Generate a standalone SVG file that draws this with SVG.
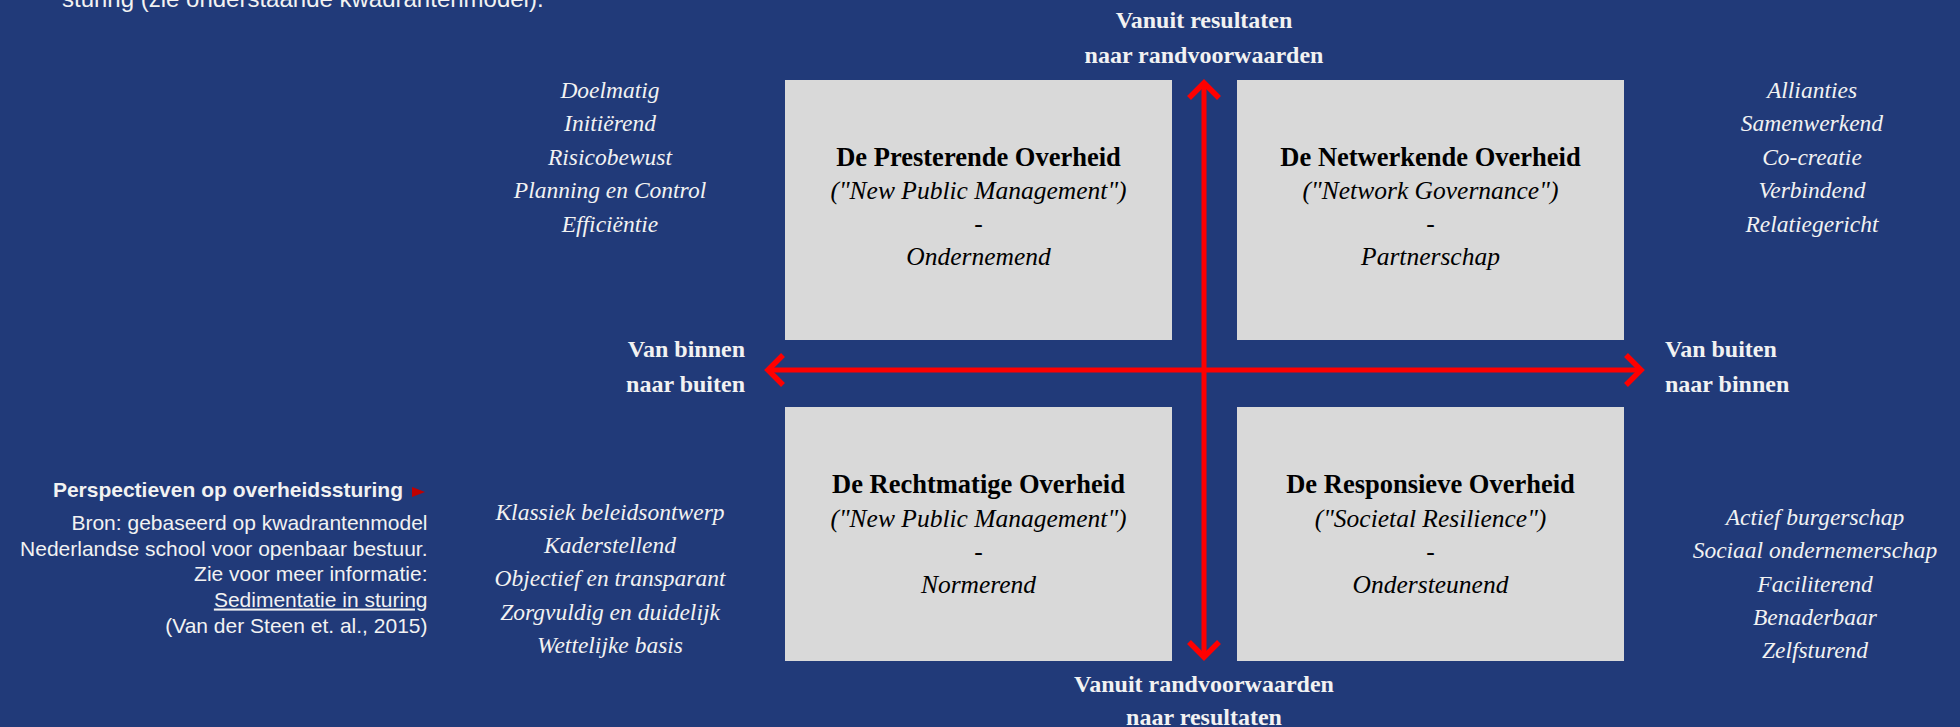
<svg xmlns="http://www.w3.org/2000/svg" width="1960" height="727" viewBox="0 0 1960 727">
<style>
.bg{fill:#213A79}
.box{fill:#D9D9D9}
.t{font-family:"Liberation Serif","Times New Roman",serif;text-anchor:middle;fill:#000}
.h{font-weight:bold;font-size:26.5px}
.s{font-style:italic;font-size:25.5px}
.l{font-family:"Liberation Serif","Times New Roman",serif;font-style:italic;font-size:23.5px;fill:#F2F2F2;text-anchor:middle}
.ax{font-family:"Liberation Serif","Times New Roman",serif;font-weight:bold;font-size:24px;fill:#F2F2F2}
.n{font-family:"Liberation Sans",Arial,sans-serif;font-size:21px;fill:#F2F2F2;text-anchor:end}
.arrow{stroke:#FF0000;stroke-width:5;fill:none}
</style>
<defs>
<marker id="ah" markerUnits="userSpaceOnUse" viewBox="-20 -18 24 36" refX="0" refY="0" markerWidth="24" markerHeight="36" orient="auto-start-reverse">
<path d="M-15,-15 L0,0 L-15,15" fill="none" stroke="#FF0000" stroke-width="5.5"/>
</marker>
</defs>
<rect class="bg" x="0" y="0" width="1960" height="727"/>

<text x="62" y="7" font-family="'Liberation Sans',Arial,sans-serif" font-size="24" fill="#F2F2F2">sturing (zie onderstaande kwadrantenmodel).</text>

<g id="node-presterend">
<rect class="box" x="785" y="80" width="387" height="260"/>
<text class="t h" x="978.5" y="166">De Presterende Overheid</text>
<text class="t s" x="978.5" y="199">("New Public Management")</text>
<text class="t s" x="978.5" y="232">-</text>
<text class="t s" x="978.5" y="265">Ondernemend</text>
</g>

<g id="node-netwerkend">
<rect class="box" x="1237" y="80" width="387" height="260"/>
<text class="t h" x="1430.5" y="166">De Netwerkende Overheid</text>
<text class="t s" x="1430.5" y="199">("Network Governance")</text>
<text class="t s" x="1430.5" y="232">-</text>
<text class="t s" x="1430.5" y="265">Partnerschap</text>
</g>

<g id="node-rechtmatig">
<rect class="box" x="785" y="407" width="387" height="254"/>
<text class="t h" x="978.5" y="493">De Rechtmatige Overheid</text>
<text class="t s" x="978.5" y="526.5">("New Public Management")</text>
<text class="t s" x="978.5" y="560">-</text>
<text class="t s" x="978.5" y="593">Normerend</text>
</g>

<g id="node-responsief">
<rect class="box" x="1237" y="407" width="387" height="254"/>
<text class="t h" x="1430.5" y="493">De Responsieve Overheid</text>
<text class="t s" x="1430.5" y="526.5">("Societal Resilience")</text>
<text class="t s" x="1430.5" y="560">-</text>
<text class="t s" x="1430.5" y="593">Ondersteunend</text>
</g>

<g id="connectors">
<line class="arrow" x1="1204" y1="657" x2="1204" y2="83" marker-start="url(#ah)" marker-end="url(#ah)"/>
<line class="arrow" x1="768" y1="370" x2="1641" y2="370" marker-start="url(#ah)" marker-end="url(#ah)"/>
</g>

<g id="axis-labels">
<text class="ax" x="1204" y="28" text-anchor="middle">Vanuit resultaten</text>
<text class="ax" x="1204" y="63" text-anchor="middle">naar randvoorwaarden</text>
<text class="ax" x="1204" y="692" text-anchor="middle">Vanuit randvoorwaarden</text>
<text class="ax" x="1204" y="725" text-anchor="middle">naar resultaten</text>
<text class="ax" x="745" y="357" text-anchor="end">Van binnen</text>
<text class="ax" x="745" y="392" text-anchor="end">naar buiten</text>
<text class="ax" x="1665" y="357">Van buiten</text>
<text class="ax" x="1665" y="392">naar binnen</text>
</g>

<g id="list-presterend">
<text class="l" x="610" y="98">Doelmatig</text>
<text class="l" x="610" y="131.4">Initiërend</text>
<text class="l" x="610" y="164.8">Risicobewust</text>
<text class="l" x="610" y="198.2">Planning en Control</text>
<text class="l" x="610" y="231.6">Efficiëntie</text>
</g>

<g id="list-netwerkend">
<text class="l" x="1812" y="98">Allianties</text>
<text class="l" x="1812" y="131.4">Samenwerkend</text>
<text class="l" x="1812" y="164.8">Co-creatie</text>
<text class="l" x="1812" y="198.2">Verbindend</text>
<text class="l" x="1812" y="231.6">Relatiegericht</text>
</g>

<g id="list-rechtmatig">
<text class="l" x="610" y="519.5">Klassiek beleidsontwerp</text>
<text class="l" x="610" y="553">Kaderstellend</text>
<text class="l" x="610" y="586">Objectief en transparant</text>
<text class="l" x="610" y="619.5">Zorgvuldig en duidelijk</text>
<text class="l" x="610" y="653">Wettelijke basis</text>
</g>

<g id="list-responsief">
<text class="l" x="1815" y="525">Actief burgerschap</text>
<text class="l" x="1815" y="558">Sociaal ondernemerschap</text>
<text class="l" x="1815" y="592">Faciliterend</text>
<text class="l" x="1815" y="625">Benaderbaar</text>
<text class="l" x="1815" y="658">Zelfsturend</text>
</g>

<g id="caption">
<text class="n" x="403" y="497" font-weight="bold">Perspectieven op overheidssturing</text>
<polygon points="412,487 425,492 412,497" fill="#C00000"/>
<text class="n" x="427.5" y="529.5">Bron: gebaseerd op kwadrantenmodel</text>
<text class="n" x="427.5" y="555.5">Nederlandse school voor openbaar bestuur.</text>
<text class="n" x="427.5" y="581">Zie voor meer informatie:</text>
<text class="n" x="427.5" y="606.5" text-decoration="underline">Sedimentatie in sturing</text>
<text class="n" x="427.5" y="632.5">(Van der Steen et. al., 2015)</text>
</g>
</svg>
